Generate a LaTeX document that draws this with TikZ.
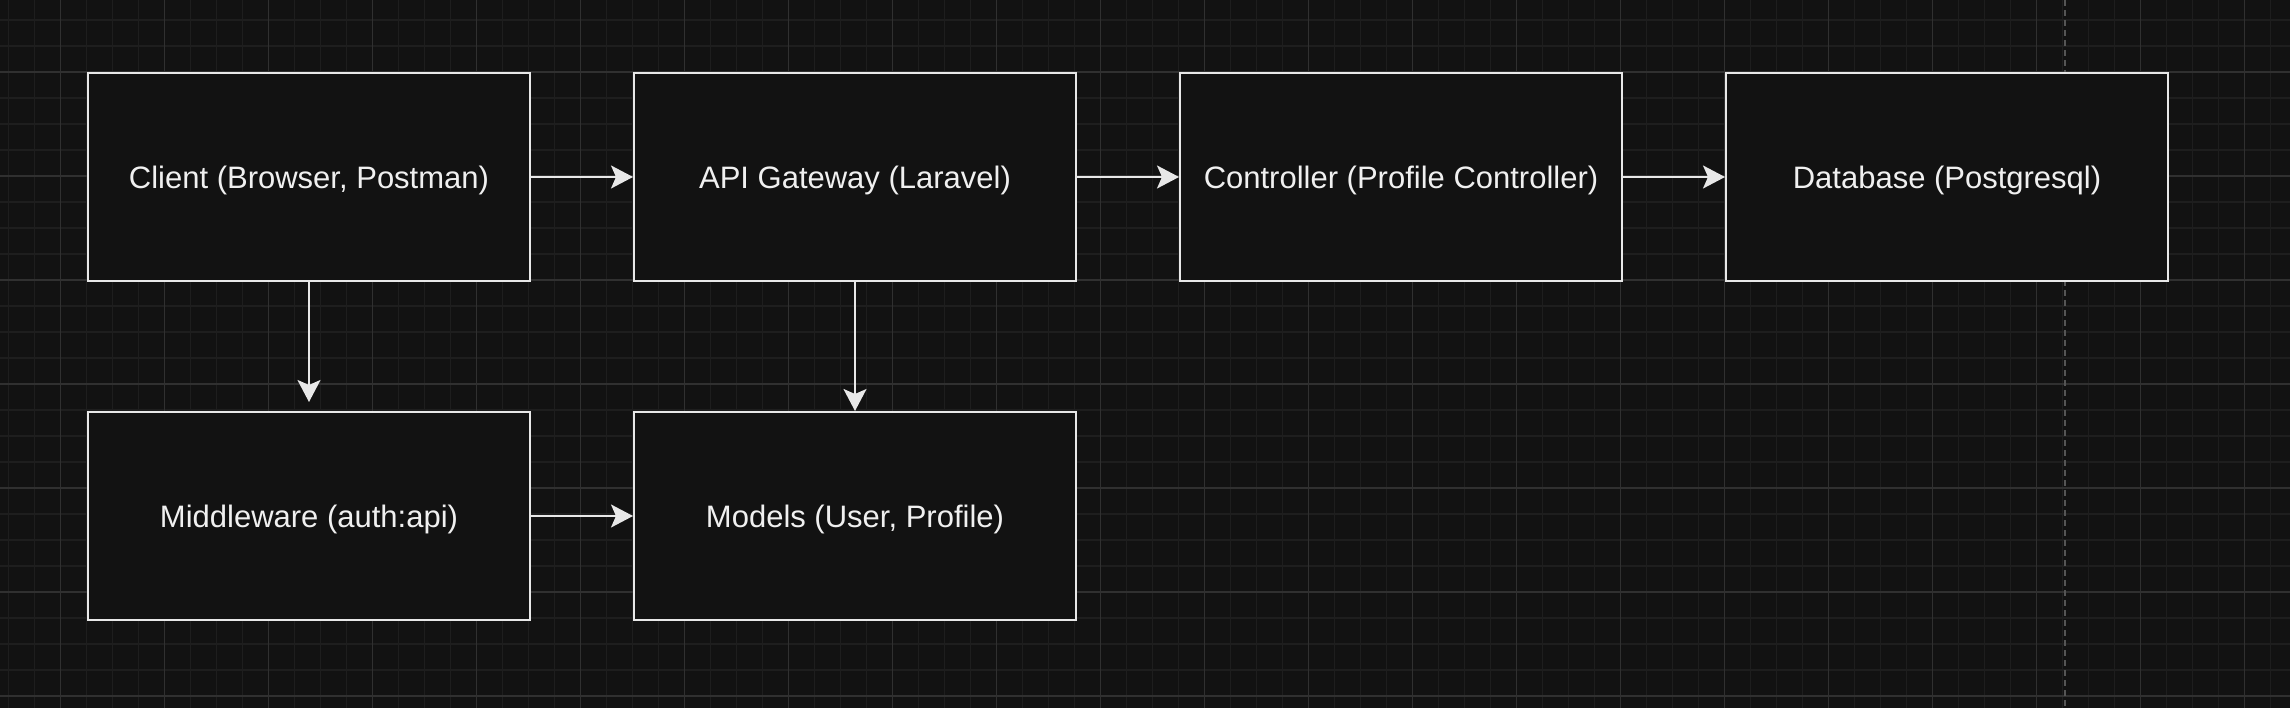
\documentclass[tikz,border=0pt]{standalone}
\usepackage{fontspec}
\setmainfont{Liberation Sans}
\usetikzlibrary{arrows.meta}
\definecolor{bg}{HTML}{121212}
\definecolor{gridminor}{HTML}{1E1E1E}
\definecolor{gridmajor}{HTML}{303030}
\definecolor{boxline}{HTML}{E8E8E8}
\definecolor{txt}{HTML}{F0F0F0}
\definecolor{dashcol}{HTML}{555555}
\tikzset{
  minorline/.style={gridminor, line width=1.6pt},
  majorline/.style={gridmajor, line width=1.2pt},
  box/.style={draw=boxline, fill=bg, line width=2pt, rectangle,
    minimum width=442pt, minimum height=208pt, inner sep=0pt,
    text depth=0pt,
    text=txt, font=\fontsize{31}{37}\selectfont},
  conn/.style={draw=boxline, line width=2pt,
    -{Stealth[length=22pt, width=23pt, inset=5pt]}},
  dashline/.style={dashcol, line width=1.6pt, dash pattern=on 6pt off 4pt}
}
\begin{document}
\begin{tikzpicture}[x=1pt, y=-1pt]
  \fill[bg] (0,0) rectangle (2290,708);
  \useasboundingbox (0,0) rectangle (2290,708);
  % minor grid
  \foreach \i in {0,...,88} {
    \draw[minorline] (8.3+26*\i,0) -- (8.3+26*\i,708);
  }
  \foreach \j in {0,...,27} {
    \draw[minorline] (0,20+26*\j) -- (2290,20+26*\j);
  }
  % major grid
  \foreach \i in {0,...,22} {
    \draw[majorline] (60.3+104*\i,0) -- (60.3+104*\i,708);
  }
  \foreach \j in {0,...,6} {
    \draw[majorline] (0,72+104*\j) -- (2290,72+104*\j);
  }
  % dashed guide
  \draw[dashline] (2065,0) -- (2065,708);
  % boxes
  \node[box] (client) at (309,177) {Client (Browser, Postman)};
  \node[box] (api) at (855,177) {API Gateway (Laravel)};
  \node[box] (ctrl) at (1401,177) {Controller (Profile Controller)};
  \node[box] (db) at (1947,177) {Database (Postgresql)};
  \node[box] (mw) at (309,516) {Middleware (auth:api)};
  \node[box] (models) at (855,516) {Models (User, Profile)};
  \coordinate (mwtop) at (309,402);
  % connectors
  \draw[conn] (client.east) -- (api.west);
  \draw[conn] (api.east) -- (ctrl.west);
  \draw[conn] (ctrl.east) -- (db.west);
  \draw[conn] (client.south) -- (mwtop);
  \draw[conn] (api.south) -- (models.north);
  \draw[conn] (mw.east) -- (models.west);
\end{tikzpicture}
\end{document}
